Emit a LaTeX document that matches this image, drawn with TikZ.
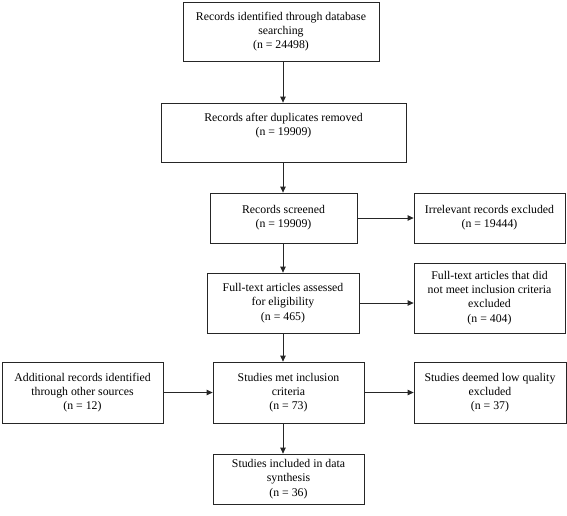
\documentclass[tikz,border=0pt]{standalone}
\usepackage{fontspec}
\setmainfont{Liberation Serif}
\usetikzlibrary{arrows.meta}
\begin{document}
\begin{tikzpicture}[x=1pt,y=-1pt,
  box/.style={draw=black!85, line width=0.8pt, align=center,
    font=\fontsize{11.8}{14.2}\selectfont, inner sep=2pt},
  arr/.style={draw=black!85, line width=0.8pt, -{Triangle[length=6pt,width=5.5pt]}}]
\useasboundingbox (0,0) rectangle (567,515);
\node[box, minimum width=196pt, minimum height=59pt] (b1) at (281,31.5)
  {Records identified through database\\searching\\(n = 24498)};
\node[box, minimum width=245pt, minimum height=59pt, text depth=16pt] (b2) at (283.5,132.5)
  {Records after duplicates removed\\(n = 19909)};
\node[box, minimum width=147pt, minimum height=50pt] (b3) at (283.5,218)
  {Records screened\\(n = 19909)};
\node[box, minimum width=152pt, minimum height=60pt] (b4) at (283,303)
  {Full-text articles assessed\\for eligibility\\(n = 465)};
\node[box, minimum width=151pt, minimum height=61pt] (b5) at (288.5,392.5)
  {Studies met inclusion\\criteria\\(n = 73)};
\node[box, minimum width=151pt, minimum height=50pt] (b6) at (288.5,479)
  {Studies included in data\\synthesis\\(n = 36)};
\node[box, minimum width=151pt, minimum height=50pt] (r1) at (489.5,218)
  {Irrelevant records excluded\\(n = 19444)};
\node[box, minimum width=151pt, minimum height=70pt] (r2) at (489.5,298)
  {Full-text articles that did\\not meet inclusion criteria\\excluded\\(n = 404)};
\node[box, minimum width=152pt, minimum height=61pt] (r3) at (490,392.5)
  {Studies deemed low quality\\excluded\\(n = 37)};
\node[box, minimum width=161pt, minimum height=61pt] (l1) at (82.5,392.5)
  {Additional records identified\\through other sources\\(n = 12)};
\coordinate (ax) at (283,0);
\draw[arr] (b1.south -| ax) -- (b2.north -| ax);
\draw[arr] (b2.south -| ax) -- (b3.north -| ax);
\draw[arr] (b3.south -| ax) -- (b4.north -| ax);
\draw[arr] (b4.south -| ax) -- (b5.north -| ax);
\draw[arr] (b5.south -| ax) -- (b6.north -| ax);
\draw[arr] (b3.east) -- (r1.west);
\draw[arr] (b4.east) -- (b4.east -| r2.west);
\draw[arr] (l1.east) -- (b5.west);
\draw[arr] (b5.east) -- (r3.west);
\end{tikzpicture}
\end{document}
